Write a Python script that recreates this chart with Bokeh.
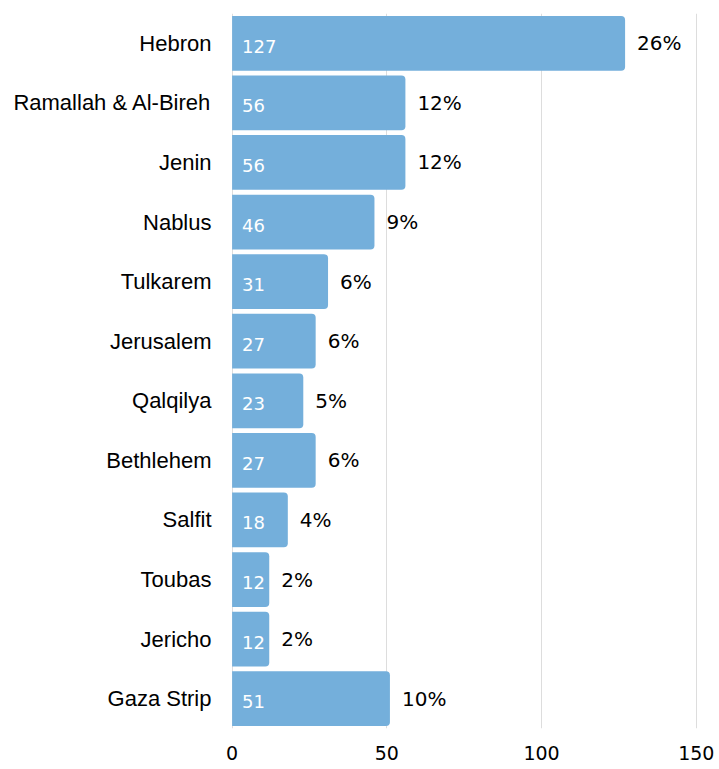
from bokeh.plotting import figure
from bokeh.models import ColumnDataSource, Range1d, FactorRange, FixedTicker
from bokeh.core.properties import value
from bokeh.embed import file_html
from bokeh.resources import INLINE

regions = ["Hebron", "Ramallah & Al-Bireh", "Jenin", "Nablus", "Tulkarem", "Jerusalem",
           "Qalqilya", "Bethlehem", "Salfit", "Toubas", "Jericho", "Gaza Strip"]
counts = [127, 56, 56, 46, 31, 27, 23, 27, 18, 12, 12, 51]
percents = [26, 12, 12, 9, 6, 6, 5, 6, 4, 2, 2, 10]
x_ticks = [0, 50, 100, 150]

src = ColumnDataSource(dict(
    region=regions,
    count=counts,
    zero=[0] * len(counts),
    count_label=[str(c) for c in counts],
    pct_label=[f"{p}%" for p in percents],
))

p = figure(width=718, height=768, output_backend="svg", toolbar_location=None,
           y_range=FactorRange(factors=list(reversed(regions)), range_padding=0),
           x_range=Range1d(-0.2, 150.4),
           min_border_left=231, min_border_right=21, min_border_top=13, min_border_bottom=40)
p.outline_line_color = None

p.hbar(y="region", right="count", left=0, height=0.92, source=src,
       fill_color="#74AFDB", line_color=None, border_radius=(0, 4, 4, 0))

p.text(x="zero", y="region", text="count_label", source=src,
       x_offset=10, y_offset=3, text_color="white", text_font=value("DejaVu Sans"),
       text_font_size="18px", text_baseline="middle", text_align="left")

p.text(x="count", y="region", text="pct_label", source=src,
       x_offset=12, y_offset=0, text_color="black", text_font=value("DejaVu Sans"),
       text_font_size="20px", text_baseline="middle", text_align="left")

p.xgrid.grid_line_color = "#dddddd"
p.xgrid.grid_line_width = 1
p.ygrid.grid_line_color = None

p.xaxis.ticker = FixedTicker(ticks=x_ticks)
p.xaxis.axis_line_color = None
p.xaxis.major_tick_line_color = None
p.xaxis.minor_tick_line_color = None
p.xaxis.major_tick_out = 0
p.xaxis.major_label_standoff = 17
p.xaxis.major_label_text_font = "DejaVu Sans"
p.xaxis.major_label_text_font_size = "19px"
p.xaxis.major_label_text_color = "black"

p.yaxis.axis_line_color = None
p.yaxis.major_tick_line_color = None
p.yaxis.major_tick_out = 0
p.yaxis.major_label_standoff = 20
p.yaxis.major_label_text_font = "Liberation Sans"
p.yaxis.major_label_text_font_size = "22px"
p.yaxis.major_label_text_color = "black"

open("out.html", "w").write(file_html(p, INLINE))
